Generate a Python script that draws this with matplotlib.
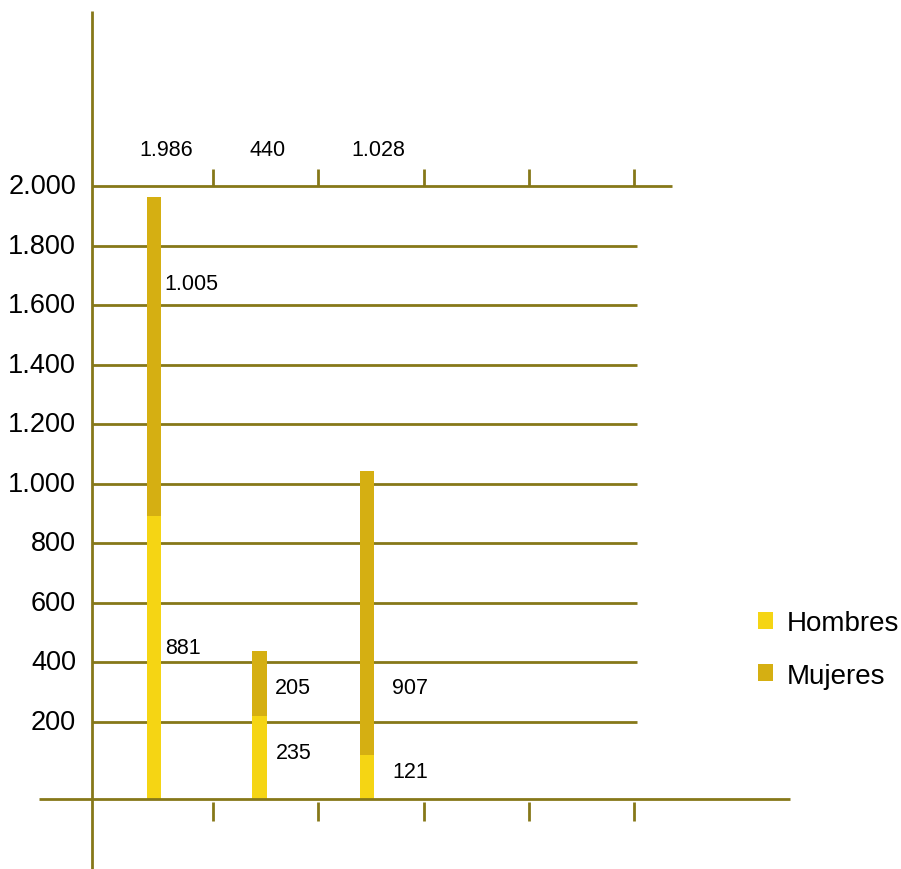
import matplotlib
matplotlib.use("Agg")
import matplotlib.pyplot as plt
from matplotlib.patches import Patch

# ---- data ----
categories = ["A", "B", "C"]
hombres = [881, 235, 121]          # printed values
mujeres = [1005, 205, 907]         # printed values
totales = ["1.986", "440", "1.028"]  # printed totals
hombres_lbl = ["881", "235", "121"]
mujeres_lbl = ["1.005", "205", "907"]
# bar heights as drawn in the picture (axis units)
hombres_bar = [892, 221, 89]
total_bar = [1963, 439, 1043]
y_ticks = [200, 400, 600, 800, 1000, 1200, 1400, 1600, 1800, 2000]
y_tick_labels = ["200", "400", "600", "800", "1.000", "1.200", "1.400", "1.600", "1.800", "2.000"]
legend_labels = ["Hombres", "Mujeres"]

# ---- style ----
C_LINE = "#867819"
C_H = "#F5D514"
C_M = "#D5AF12"
FONT = ["Liberation Sans", "DejaVu Sans"]
plt.rcParams["font.family"] = FONT

W, H = 901, 870
fig = plt.figure(figsize=(W / 100, H / 100), dpi=100)
ax = fig.add_axes([0, 0, 1, 1])
ax.set_axis_off()

# pixel <-> data mapping
PX_PER_X = 105.25
X0_PX = 213.0
ZERO_ROW = 782.6
PX_PER_Y = 536 / 1800


def dx(px):
    return 1 + (px - X0_PX) / PX_PER_X


def dy(row):
    return (ZERO_ROW - row) / PX_PER_Y


ax.set_xlim(dx(0), dx(W))
ax.set_ylim(dy(H), dy(0))

base = dy(800)
lw = 2.0

# gridlines
for t in y_ticks[:-1]:
    ax.plot([dx(92), dx(637)], [t, t], color=C_LINE, lw=lw, zorder=1, solid_capstyle="butt")
# top line
ax.plot([dx(92), dx(672)], [2000, 2000], color=C_LINE, lw=lw, zorder=3, solid_capstyle="butt")
# baseline
ax.plot([dx(39), dx(790)], [base, base], color=C_LINE, lw=lw, zorder=3, solid_capstyle="butt")
# vertical axis
ax.plot([dx(92), dx(92)], [dy(870), dy(12)], color=C_LINE, lw=lw, zorder=3, solid_capstyle="butt")
# ticks
for k in range(1, 6):
    ax.plot([k, k], [dy(803), dy(822)], color=C_LINE, lw=lw, zorder=3, solid_capstyle="butt")
    ax.plot([k, k], [dy(170), dy(187)], color=C_LINE, lw=lw, zorder=3, solid_capstyle="butt")

# bars
xpos = [dx(154), dx(259.5), dx(367)]
bw = 14.5 / PX_PER_X
h_heights = [h - base for h in hombres_bar]
m_heights = [t - h for t, h in zip(total_bar, hombres_bar)]
ax.bar(xpos, h_heights, bottom=base, width=bw, color=C_H, zorder=2)
ax.bar(xpos, m_heights, bottom=hombres_bar, width=bw, color=C_M, zorder=2)

# y tick labels
for t, lab in zip(y_ticks, y_tick_labels):
    ax.text(dx(76), t, lab, ha="right", va="center", fontsize=19.5, color="black")

# totals on top
tot_x = [166, 268, 378]
for x, lab in zip(tot_x, totales):
    ax.text(dx(x), dy(151), lab, ha="center", va="center", fontsize=15.5, color="black")

# segment labels
m_pos = [(164, 285), (275, 689), (392, 689)]
h_pos = [(165, 649), (276, 754), (392, 773)]
for (x, r), lab in zip(m_pos, mujeres_lbl):
    ax.text(dx(x), dy(r), lab, ha="left", va="center", fontsize=15.5, color="black")
for (x, r), lab in zip(h_pos, hombres_lbl):
    ax.text(dx(x), dy(r), lab, ha="left", va="center", fontsize=15.5, color="black")

# legend
handles = [Patch(facecolor=C_H), Patch(facecolor=C_M)]
fig.legend(handles, legend_labels, loc="upper left",
           bbox_to_anchor=(758 / W, 1 - 611 / H), frameon=False,
           fontsize=20, handlelength=0.55, handleheight=0.55,
           handletextpad=0.47, labelspacing=0.96, borderpad=0, borderaxespad=0)

fig.savefig("out.png", dpi=100)
